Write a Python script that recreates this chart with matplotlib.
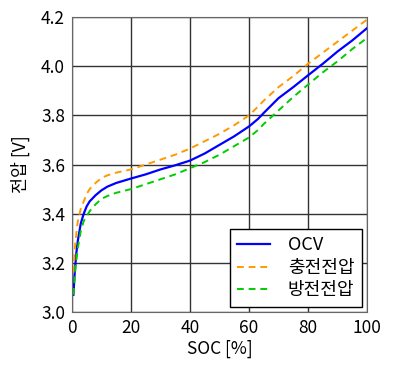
import numpy as np
import matplotlib.pyplot as plt

plt.rcParams['font.family'] = ['Noto Sans CJK KR', 'DejaVu Sans']

# SOC [%] and voltages
soc = [0.5, 1, 1.5, 2, 3, 4, 5, 6, 8, 10, 12, 15, 20, 25, 30, 35, 40, 45, 50,
       55, 60, 63, 65, 70, 75, 80, 85, 90, 95, 100]
ocv = [3.07, 3.17, 3.24, 3.29, 3.36, 3.40, 3.43, 3.45, 3.475, 3.495, 3.51, 3.525,
       3.543, 3.56, 3.58, 3.597, 3.616, 3.645, 3.68, 3.715, 3.755, 3.785, 3.81,
       3.87, 3.915, 3.963, 4.01, 4.06, 4.105, 4.155]
charge = [3.16, 3.26, 3.32, 3.37, 3.42, 3.45, 3.48, 3.50, 3.525, 3.545, 3.556, 3.567,
          3.58, 3.60, 3.62, 3.64, 3.665, 3.695, 3.725, 3.76, 3.80, 3.835, 3.86,
          3.915, 3.96, 4.01, 4.055, 4.10, 4.145, 4.19]
discharge = [3.07, 3.15, 3.21, 3.26, 3.33, 3.37, 3.39, 3.41, 3.438, 3.46, 3.472,
             3.485, 3.50, 3.52, 3.54, 3.56, 3.585, 3.61, 3.64, 3.675, 3.71, 3.74,
             3.765, 3.82, 3.875, 3.925, 3.975, 4.02, 4.07, 4.115]

fig = plt.figure(figsize=(3.93, 3.71), dpi=100)
ax = fig.add_axes([0.183, 0.159, 0.751, 0.795])

ax.plot(soc, ocv, color='#0000ff', lw=1.6, label='OCV')
ax.plot(soc, charge, color='#ff9900', lw=1.4, ls=(0, (3.5, 2.5)), label='충전전압')
ax.plot(soc, discharge, color='#00cc00', lw=1.4, ls=(0, (3.5, 2.5)), label='방전전압')

ax.set_xlim(0, 100)
ax.set_ylim(3.0, 4.2)
ax.set_xticks(np.arange(0, 101, 20))
ax.set_yticks(np.arange(3.0, 4.21, 0.2))
ax.set_yticklabels(['3.0', '3.2', '3.4', '3.6', '3.8', '4.0', '4.2'])
ax.grid(True, color='#333333', lw=1)
ax.set_axisbelow(True)
for s in ax.spines.values():
    s.set_color('#666666')
ax.tick_params(labelsize=12.5, length=0, pad=5)

ax.set_xlabel('SOC [%]', fontsize=12.5, labelpad=2)
ax.set_ylabel('전압 [V]', fontsize=12.5, labelpad=8)

leg = ax.legend(loc='lower right', fontsize=13, fancybox=False, framealpha=1,
                edgecolor='black', borderaxespad=0.3, handlelength=1.8,
                handletextpad=1.0, labelspacing=0.25, borderpad=0.4)
leg.get_frame().set_linewidth(1)

fig.savefig('out.png', dpi=100)
